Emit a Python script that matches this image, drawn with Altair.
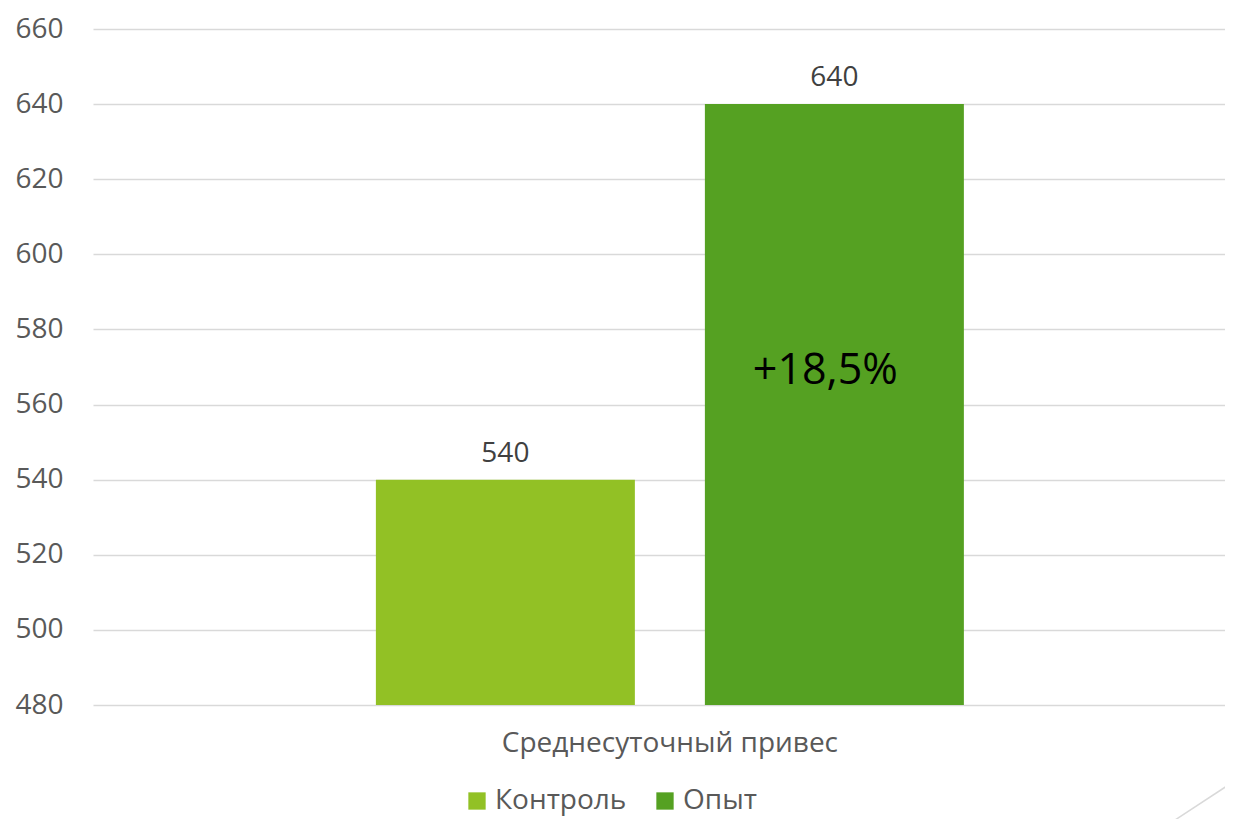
import altair as alt
import pandas as pd

categories = ["Среднесуточный привес"]
series = ["Контроль", "Опыт"]
values = [540, 640]
colors = ["#92c125", "#55a122"]
annotation = "+18,5%"
annotation_y = 569
y_ticks = [480, 500, 520, 540, 560, 580, 600, 620, 640, 660]

FONT = "Open Sans"
FS = 28

df = pd.DataFrame({
    "cat": [categories[0]] * len(series),
    "series": series,
    "value": values,
})

x = alt.X("cat:N", title=None,
          scale=alt.Scale(paddingInner=0, paddingOuter=0.4626, align=0.52),
          axis=alt.Axis(labelAngle=0, labelFontSize=FS, labelColor="#595959",
                        labelFont=FONT, domain=False, ticks=False, labelPadding=24,
                        labelBaseline="top", labelLimit=1000))
xo = alt.XOffset("series:N", sort=series,
                 scale=alt.Scale(paddingInner=0.2128, paddingOuter=0))
y = alt.Y("value:Q", title=None,
          scale=alt.Scale(domain=[480, 660], nice=False, zero=False),
          axis=alt.Axis(values=y_ticks, labelFontSize=FS, labelColor="#595959",
                        labelFont=FONT, domain=False, ticks=False, labelPadding=30,
                        gridColor="#d9d9d9", gridWidth=1.5))

base = alt.Chart(df)

bars = base.mark_bar().encode(
    x=x, xOffset=xo, y=y,
    y2=alt.datum(480),
    color=alt.Color("series:N", sort=series,
                    scale=alt.Scale(domain=series, range=colors),
                    legend=alt.Legend(title=None, orient="none", direction="horizontal",
                                      legendX=370, legendY=758,
                                      symbolType="square", symbolSize=300,
                                      symbolStrokeWidth=0, labelFontSize=FS,
                                      labelFont=FONT, labelColor="#595959",
                                      labelOffset=4, columnPadding=24)),
)

labels = base.mark_text(baseline="bottom", dy=-12, fontSize=FS, font=FONT,
                        color="#404040").encode(
    x=x, xOffset=xo, y=y, text=alt.Text("value:Q"))

ann_df = pd.DataFrame({"cat": [categories[0]], "series": [series[1]],
                       "value": [annotation_y], "t": [annotation]})
ann = alt.Chart(ann_df).mark_text(fontSize=43, font=FONT, color="#000000",
                                  baseline="middle", dx=-9).encode(
    x=x, xOffset=xo, y=y, text="t:N")

deco = alt.Chart(pd.DataFrame({"a": [0]})).mark_rule(color="#d9d9d9", strokeWidth=1.5).encode(
    x=alt.value(1079), x2=alt.value(1140), y=alt.value(793), y2=alt.value(753))

chart = alt.layer(bars, labels, ann, deco).properties(
    width=1132, height=676,
    autosize=alt.AutoSizeParams(type="none"),
    padding={"left": 85, "top": 21, "right": 0, "bottom": 114},
).configure_view(stroke=None)

chart.save("out.html", embed_options={"renderer": "svg", "actions": False})
